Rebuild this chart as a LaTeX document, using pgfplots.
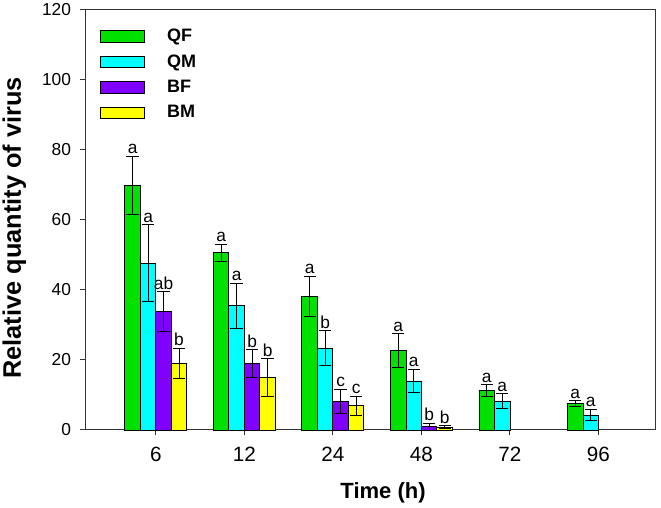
\documentclass[border=0pt]{standalone}
\usepackage{pgfplots}
\pgfplotsset{compat=1.18}
\usepackage{pgfplotstable}
\usepackage{fontspec}
\setmainfont{Liberation Sans}
\definecolor{cQF}{RGB}{0,225,0}
\definecolor{cQM}{RGB}{0,255,255}
\definecolor{cBF}{RGB}{127,0,255}
\definecolor{cBM}{RGB}{255,255,0}

\pgfplotstableread{
x y e lab
0 69.9 8.3 a
1 50.6 2.5 a
2 38.2 5.7 a
3 22.7 4.8 a
4 11.3 1.7 a
5 7.6 0.8 a
}\QF
\pgfplotstableread{
x y e lab
0 47.6 11.0 a
1 35.5 6.4 a
2 23.4 4.9 b
3 14.0 3.4 a
4 8.2 2.1 a
5 4.3 1.7 a
}\QM
\pgfplotstableread{
x y e lab
0 33.8 5.7 ab
1 19.0 4.0 b
2 8.2 3.4 c
3 1.0 1.0 b
}\BF
\pgfplotstableread{
x y e lab
0 19.0 4.3 b
1 15.0 5.3 b
2 6.9 2.8 c
3 0.8 0.4 b
}\BM

\pgfplotsset{
  mybar/.style={ybar, bar width=0.175, draw=black, line width=0.6pt, fill=#1},
  myerr/.style={mark=none, forget plot, draw=none,
    error bars/y dir=both, error bars/y explicit,
    error bars/error bar style={draw=black, line width=0.7pt},
    error bars/error mark options={rotate=90, mark size=4.6pt, draw=black, line width=0.7pt}},
  mylab/.style={draw=none, mark=none, forget plot,
    nodes near coords, point meta=explicit symbolic,
    every node near coord/.append style={anchor=south, inner sep=0pt, yshift=1.5pt,
      font=\fontsize{13}{15}\selectfont}},
}

\begin{document}
\begin{tikzpicture}
\begin{axis}[
  scale only axis,
  width=428.25pt, height=315pt,
  xmin=-0.80, xmax=5.65,
  ymin=0, ymax=120,
  xtick={0,1,2,3,4,5},
  xticklabels={6,12,24,48,72,96},
  ytick={0,20,...,120},
  axis line style={black!80, line width=0.75pt},
  tick style={black!80, line width=0.75pt},
  tick align=outside,
  xtick pos=bottom, ytick pos=left,
  major tick length=4pt,
  /pgf/number format/assume math mode=true,
  xticklabel style={font=\fontsize{15.5}{17}\selectfont, yshift=-5.5pt},
  yticklabel style={font=\fontsize{13}{15}\selectfont, xshift=-3pt},
  xlabel={\bfseries Time (h)},
  ylabel={\bfseries Relative quantity of virus},
  xlabel style={font=\fontsize{16.5}{18}\selectfont, at={(axis description cs:0.522,-0.15)}, anchor=center},
  ylabel style={font=\fontsize{19}{21}\selectfont, at={(axis description cs:-0.124,0.481)}, anchor=center},
  clip=false,
  legend style={at={(rel axis cs:0.026,0.958)}, anchor=north west, draw=none, fill=none,
    font=\fontsize{13.5}{15}\selectfont\bfseries, row sep=6.2pt, inner sep=0pt,
    nodes={inner sep=1pt}},
  legend cell align=left,
  legend image code/.code={\draw[#1, line width=0.6pt] (0pt,-4.25pt) rectangle (33pt,4.25pt); \path[draw=none, fill=none] (0pt,0pt) -- (49pt,0pt);},
]
\addplot[mybar=cQF, bar shift=-0.2625] table[x=x, y=y] {\QF};
\addplot[mybar=cQM, bar shift=-0.0875] table[x=x, y=y] {\QM};
\addplot[mybar=cBF, bar shift=0.0875] table[x=x, y=y] {\BF};
\addplot[mybar=cBM, bar shift=0.2625] table[x=x, y=y] {\BM};
\legend{QF,QM,BF,BM}
\addplot[myerr] table[x expr=\thisrow{x}-0.2625, y=y, y error=e] {\QF};
\addplot[myerr] table[x expr=\thisrow{x}-0.0875, y=y, y error=e] {\QM};
\addplot[myerr] table[x expr=\thisrow{x}+0.0875, y=y, y error=e] {\BF};
\addplot[myerr] table[x expr=\thisrow{x}+0.2625, y=y, y error=e] {\BM};
\addplot[mylab] table[x expr=\thisrow{x}-0.2625, y expr=\thisrow{y}+\thisrow{e}, meta=lab] {\QF};
\addplot[mylab] table[x expr=\thisrow{x}-0.0875, y expr=\thisrow{y}+\thisrow{e}, meta=lab] {\QM};
\addplot[mylab] table[x expr=\thisrow{x}+0.0875, y expr=\thisrow{y}+\thisrow{e}, meta=lab] {\BF};
\addplot[mylab] table[x expr=\thisrow{x}+0.2625, y expr=\thisrow{y}+\thisrow{e}, meta=lab] {\BM};
\draw[black!80, line width=0.75pt] (rel axis cs:0,1) -- (rel axis cs:1,1) -- (rel axis cs:1,0);
\coordinate (bbll) at (rel axis cs:-0.1489,-0.1857);
\coordinate (bbur) at (rel axis cs:1.0088,1.0238);
\end{axis}
\pgfresetboundingbox
\useasboundingbox (bbll) rectangle (bbur);
\end{tikzpicture}
\end{document}
